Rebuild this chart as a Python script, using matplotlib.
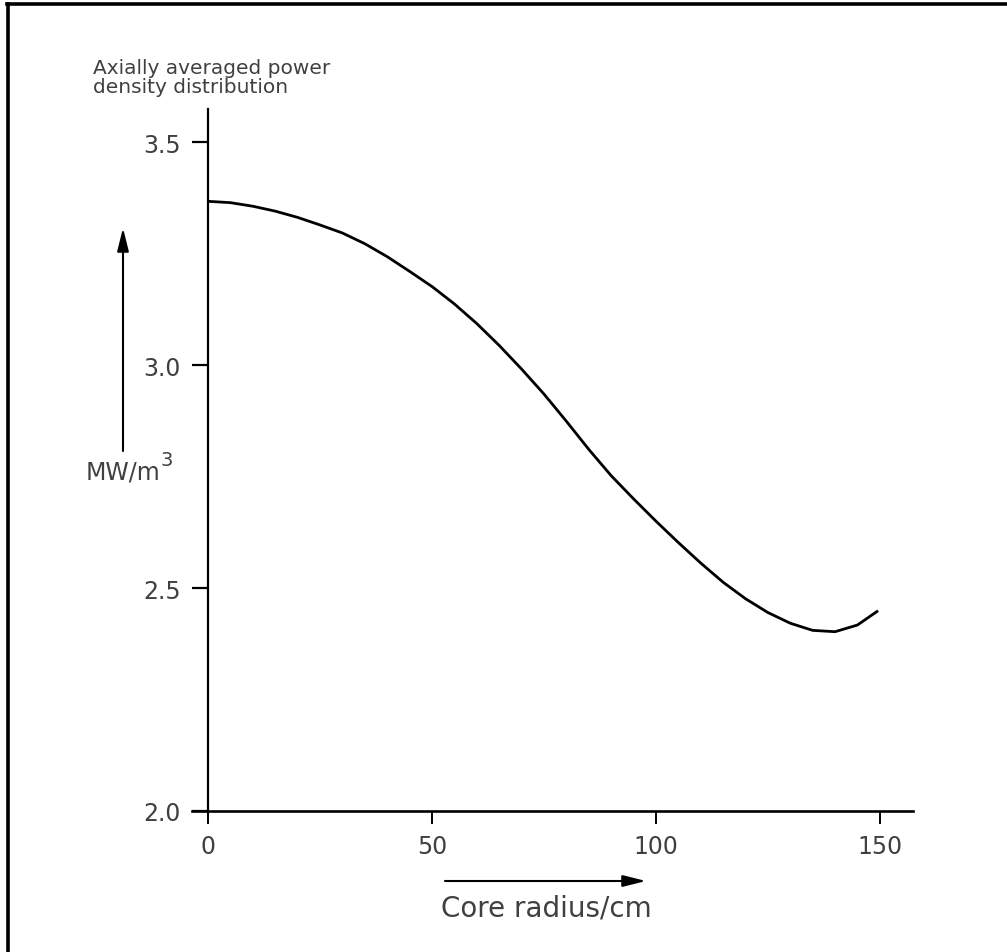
import matplotlib
matplotlib.use("Agg")
import matplotlib.pyplot as plt
from matplotlib.lines import Line2D
from matplotlib.patches import FancyArrowPatch

# Data
radius_cm = [0, 5, 10, 15, 20, 25, 30, 35, 40, 45, 50, 55, 60, 65, 70, 75, 80, 85,
             90, 95, 100, 105, 110, 115, 120, 125, 130, 135, 140, 145, 149.6]
power_density = [3.367, 3.364, 3.356, 3.345, 3.331, 3.314, 3.296, 3.272, 3.243, 3.210,
                 3.176, 3.137, 3.093, 3.044, 2.991, 2.935, 2.874, 2.811,
                 2.752, 2.700, 2.650, 2.602, 2.556, 2.513, 2.476, 2.445, 2.421,
                 2.405, 2.402, 2.417, 2.449]
x_ticks = [0, 50, 100, 150]
y_ticks = [2.0, 2.5, 3.0, 3.5]
x_ticklabels = ["0", "50", "100", "150"]
y_ticklabels = ["2.0", "2.5", "3.0", "3.5"]

plt.rcParams['font.family'] = ['DejaVu Sans']
txtc = '#404040'

W, H = 1007, 953
fig = plt.figure(figsize=(W / 100, H / 100), dpi=100)
fig.patch.set_facecolor('white')


def fx(px):
    return px / W


def fy(py):
    return 1 - py / H


ax = fig.add_axes([fx(208), fy(812), fx(913) - fx(208), fy(110) - fy(812)])
ax.plot(radius_cm, power_density, color='black', lw=2.0,
        solid_capstyle='butt', solid_joinstyle='round')
ax.set_xlim(0, 157.4)
ax.set_ylim(2.0, 3.574)
ax.set_xticks(x_ticks)
ax.set_xticklabels(x_ticklabels)
ax.set_yticks(y_ticks)
ax.set_yticklabels(y_ticklabels)
for s in ['top', 'right']:
    ax.spines[s].set_visible(False)
ax.spines['left'].set_linewidth(1.6)
ax.spines['bottom'].set_linewidth(1.9)
ax.spines['bottom'].set_bounds(-3.6, 157.4)
ax.spines['bottom'].set_clip_on(False)
ax.tick_params(axis='y', direction='out', length=11.5, width=1.6, pad=8,
               labelsize=17, labelcolor=txtc)
ax.tick_params(axis='x', direction='out', length=9.4, width=1.4, pad=7,
               labelsize=17, labelcolor=txtc)

# Y label text and arrow
fig.text(fx(93), fy(97), "Axially averaged power\ndensity distribution",
         fontsize=14.5, color=txtc, va='bottom', ha='left', linespacing=1.0)
fig.add_artist(FancyArrowPatch(
    (fx(123), fy(452)), (fx(123), fy(229)), transform=fig.transFigure,
    arrowstyle='-|>,head_length=14,head_width=3.5', lw=1.5, color='black',
    shrinkA=0, shrinkB=0, mutation_scale=1))
fig.text(fx(86), fy(480), "MW/m", fontsize=17, color=txtc,
         va='baseline', ha='left')
fig.text(fx(160), fy(466), "3", fontsize=14, color=txtc,
         va='baseline', ha='left')

# X label text and arrow
fig.add_artist(FancyArrowPatch(
    (fx(445), fy(882)), (fx(646), fy(882)), transform=fig.transFigure,
    arrowstyle='-|>,head_length=14,head_width=3.5', lw=1.5, color='black',
    shrinkA=0, shrinkB=0, mutation_scale=1))
fig.text(fx(546), fy(917), "Core radius/cm", fontsize=20, color=txtc,
         va='baseline', ha='center')

# Frame lines (top and left)
fig.add_artist(Line2D([fx(7), 1.0], [fy(5), fy(5)], transform=fig.transFigure,
                      color='black', lw=2.6, solid_capstyle='projecting'))
fig.add_artist(Line2D([fx(8), fx(8)], [fy(5), 0.0], transform=fig.transFigure,
                      color='black', lw=2.6, solid_capstyle='projecting'))

fig.savefig("out.png", dpi=100, facecolor='white')
